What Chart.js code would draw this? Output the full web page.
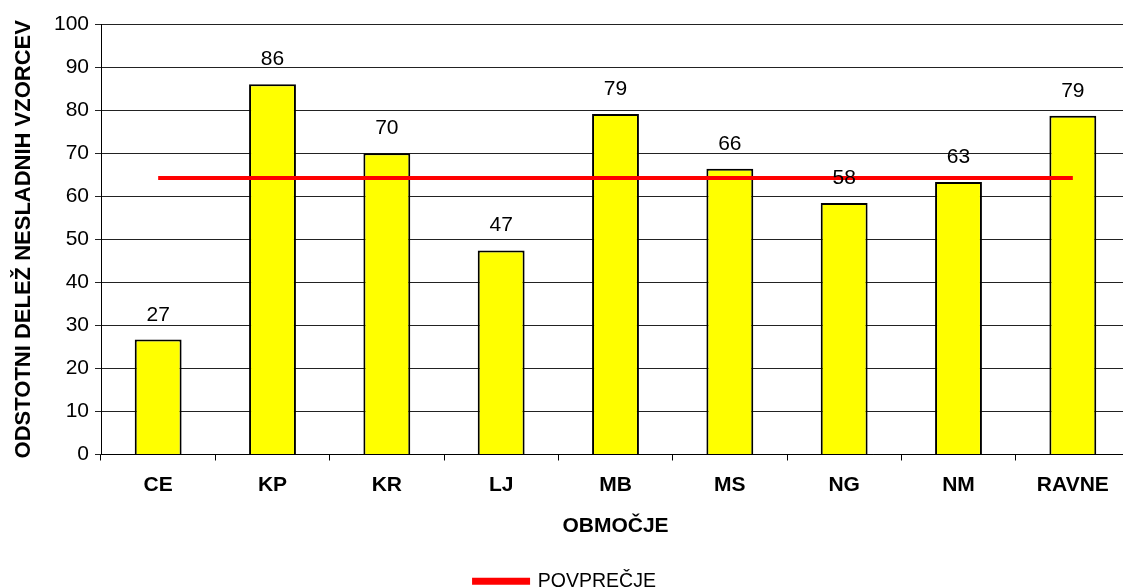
<!DOCTYPE html>
<html>
<head>
<meta charset="utf-8">
<script src="https://cdn.jsdelivr.net/npm/chart.js@4.4.0/dist/chart.umd.min.js"></script>
<style>
  html, body { margin: 0; padding: 0; background: #fff; overflow: hidden; }
  #wrap { position: relative; width: 1130px; height: 601px; }
</style>
</head>
<body>
<div id="wrap"><canvas id="chart"></canvas></div>
<script>
// values
const regions = ['CE', 'KP', 'KR', 'LJ', 'MB', 'MS', 'NG', 'NM', 'RAVNE'];
const shares = [26.7, 86.0, 70.0, 47.4, 79.1, 66.4, 58.4, 63.3, 78.7];
const average = [64.2, 64.2, 64.2, 64.2, 64.2, 64.2, 64.2, 64.2, 64.2];
const yTicks = [0, 10, 20, 30, 40, 50, 60, 70, 80, 90, 100];

const FONT = "'Liberation Sans', Arial, sans-serif";

// numbers above the bars
const barLabels = {
  id: 'barLabels',
  afterDatasetsDraw(chart) {
    const meta = chart.getDatasetMeta(0);
    const ctx = chart.ctx;
    ctx.save();
    ctx.font = '21px ' + FONT;
    ctx.fillStyle = '#000';
    ctx.textAlign = 'center';
    ctx.textBaseline = 'alphabetic';
    meta.data.forEach((bar, i) => {
      ctx.fillText(String(Math.round(shares[i])), bar.x, bar.y - 19);
    });
    ctx.restore();
  }
};

new Chart(document.getElementById('chart'), {
  data: {
    labels: regions,
    datasets: [
      {
        type: 'bar',
        label: 'delez',
        data: shares,
        backgroundColor: '#FFFF00',
        borderColor: '#000',
        borderWidth: 2,
        barPercentage: 0.41,
        categoryPercentage: 1,
        order: 2
      },
      {
        type: 'line',
        label: 'POVPREČJE',
        data: average,
        borderColor: '#FF0000',
        backgroundColor: '#FF0000',
        borderWidth: 4,
        pointRadius: 0,
        tension: 0,
        order: 1
      }
    ]
  },
  options: {
    responsive: true,
    maintainAspectRatio: false,
    animation: false,
    layout: { padding: { top: 24, right: 0, left: 0, bottom: 0 } },
    plugins: {
      tooltip: { enabled: false },
      legend: {
        position: 'bottom',
        labels: {
          filter: item => item.datasetIndex === 1,
          boxWidth: 54,
          boxHeight: 3,
          padding: 8,
          color: '#000',
          font: { family: FONT, size: 19.5 }
        }
      }
    },
    scales: {
      x: {
        offset: true,
        grid: { display: true, drawOnChartArea: false, drawTicks: true, tickLength: 6, color: '#000', offset: true },
        border: { color: '#000', width: 1 },
        ticks: { color: '#000', padding: 12, font: { family: FONT, size: 21, weight: 'bold' } },
        title: {
          display: true,
          text: 'OBMOČJE',
          color: '#000',
          padding: { top: 12, bottom: 25 },
          font: { family: FONT, size: 21, weight: 'bold' }
        },
        afterFit: s => { s.height = 109; }
      },
      y: {
        min: 0,
        max: 100,
        afterBuildTicks: s => { s.ticks = yTicks.map(v => ({ value: v })); },
        grid: { color: '#222', lineWidth: 1, drawTicks: true, tickLength: 6 },
        border: { color: '#000', width: 1 },
        ticks: { color: '#000', padding: 6, font: { family: FONT, size: 21 } },
        title: {
          display: true,
          text: 'ODSTOTNI DELEŽ NESLADNIH VZORCEV',
          color: '#000',
          padding: { top: 11, bottom: 0 },
          font: { family: FONT, size: 22, weight: 'bold' }
        },
        afterFit: s => { s.width = 101; }
      }
    }
  },
  plugins: [barLabels]
});
</script>
</body>
</html>
